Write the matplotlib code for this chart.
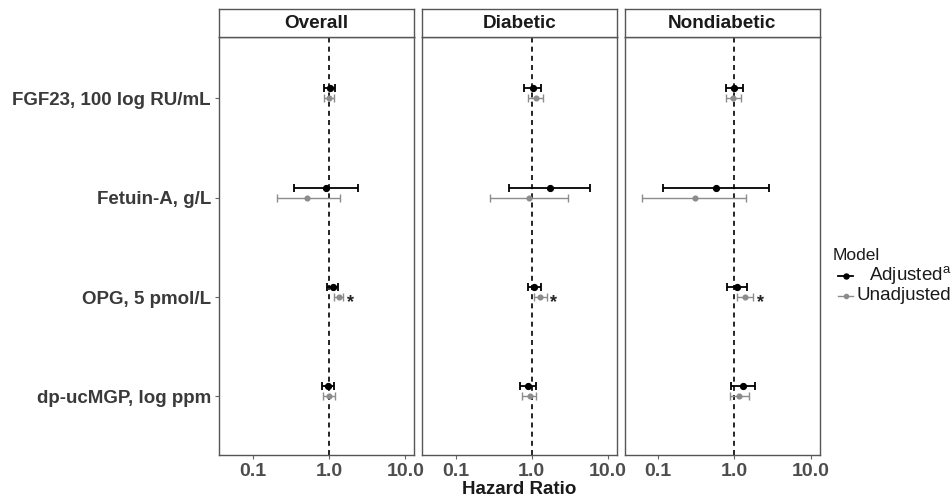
import numpy as np
import matplotlib
matplotlib.use('Agg')
import matplotlib.pyplot as plt
from matplotlib.lines import Line2D

plt.rcParams['font.family'] = ['Liberation Sans', 'DejaVu Sans']

markers = ['FGF23, 100 log RU/mL', 'Fetuin-A, g/L', 'OPG, 5 pmol/L', 'dp-ucMGP, log ppm']
groups = ['Overall', 'Diabetic', 'Nondiabetic']

# hazard ratios and 95% CI, one list per group, in the order of markers
adj_hr = {'Overall': [1.03, 0.91, 1.11, 0.97],
          'Diabetic': [1.03, 1.73, 1.08, 0.90],
          'Nondiabetic': [1.00, 0.57, 1.07, 1.31]}
adj_lo = {'Overall': [0.87, 0.35, 0.93, 0.80],
          'Diabetic': [0.80, 0.51, 0.88, 0.70],
          'Nondiabetic': [0.78, 0.116, 0.80, 0.89]}
adj_hi = {'Overall': [1.20, 2.38, 1.30, 1.16],
          'Diabetic': [1.33, 5.80, 1.33, 1.15],
          'Nondiabetic': [1.31, 2.80, 1.45, 1.87]}

unadj_hr = {'Overall': [1.01, 0.52, 1.34, 1.00],
            'Diabetic': [1.13, 0.92, 1.30, 0.94],
            'Nondiabetic': [0.97, 0.30, 1.38, 1.14]}
unadj_lo = {'Overall': [0.87, 0.21, 1.16, 0.84],
            'Diabetic': [0.90, 0.28, 1.08, 0.75],
            'Nondiabetic': [0.78, 0.062, 1.08, 0.87]}
unadj_hi = {'Overall': [1.15, 1.37, 1.54, 1.20],
            'Diabetic': [1.41, 3.00, 1.56, 1.15],
            'Nondiabetic': [1.21, 1.42, 1.76, 1.55]}

# significant unadjusted estimates get a star
starred = ['OPG, 5 pmol/L']

W, H = 953, 499
fig = plt.figure(figsize=(W / 100, H / 100), dpi=100)

left0 = 219.3
pw = 194.8
gap = 7.9
ptop = 36.7
pbot = 455
stop = 9.3

pos = np.arange(len(markers))
txt_gray = '#4d4d4d'
frame = '#555555'
adj_col = 'black'
unadj_col = '#8c8c8c'

for i, g in enumerate(groups):
    x0 = left0 + i * (pw + gap)
    ax = fig.add_axes([x0 / W, 1 - pbot / H, pw / W, (pbot - ptop) / H])
    ax.set_xscale('log')
    ax.set_xlim(10 ** -1.44, 10 ** 1.115)
    ax.set_ylim(3.59, -0.62)
    ax.axvline(1.0, color='black', lw=1.2, ls=(0, (3, 2.5)), zorder=1)

    ya = pos - 0.1
    a = np.array(adj_hr[g])
    ax.errorbar(a, ya, xerr=[a - np.array(adj_lo[g]), np.array(adj_hi[g]) - a],
                fmt='o', color=adj_col, ms=4.2, elinewidth=1.3, capsize=3.0,
                capthick=1.3, zorder=3)
    u = np.array(unadj_hr[g])
    ax.errorbar(u, pos, xerr=[u - np.array(unadj_lo[g]), np.array(unadj_hi[g]) - u],
                fmt='o', color=unadj_col, ms=3.4, elinewidth=1.0, capsize=2.8,
                capthick=1.0, zorder=2)
    for j, m in enumerate(markers):
        if m in starred:
            ax.annotate('*', (unadj_hi[g][j], pos[j]), xytext=(2.5, -4),
                        textcoords='offset points', ha='left', va='center',
                        fontsize=13, fontweight='bold', color='#222222')

    ax.set_xticks([0.1, 1, 10])
    ax.set_xticklabels(['0.1', '1.0', '10.0'])
    ax.minorticks_off()
    ax.tick_params(axis='x', length=3, width=0.8, color='#666666', labelsize=14,
                   labelcolor=txt_gray, pad=3)
    for lab in ax.get_xticklabels():
        lab.set_fontweight('bold')
    if i == 0:
        ax.set_yticks(pos)
        ax.set_yticklabels(markers)
        ax.tick_params(axis='y', length=3, width=0.8, color='#666666', labelsize=13.5,
                       labelcolor='#3a3a3a', pad=3)
        for lab in ax.get_yticklabels():
            lab.set_fontweight('bold')
    else:
        ax.set_yticks([])
    for sp in ax.spines.values():
        sp.set_color(frame)
        sp.set_linewidth(1.0)

    # strip
    sax = fig.add_axes([x0 / W, 1 - ptop / H, pw / W, (ptop - stop) / H])
    sax.set_xticks([])
    sax.set_yticks([])
    for sp in sax.spines.values():
        sp.set_color(frame)
        sp.set_linewidth(1.0)
    sax.text(0.5, 0.47, g, ha='center', va='center', fontsize=13.6, fontweight='bold',
             color='#1a1a1a', transform=sax.transAxes)

fig.text((left0 + 1.5 * pw + gap) / W, 1 - 490 / H, 'Hazard Ratio', ha='center',
         va='center', fontsize=13.5, fontweight='bold', color='#1a1a1a')

# legend drawn by hand: labels sit right-aligned as in the original
fig.text(833 / W, 1 - 256 / H, 'Model', ha='left', va='center', fontsize=12.5,
         color='#1a1a1a')
leg_labels = ['Adjusted$^{\\mathregular{a}}$', 'Unadjusted']
leg_cols = [adj_col, unadj_col]
leg_y = [276, 296]
leg_ms = [3.6, 3.0]
leg_lw = [1.3, 1.0]
for lab, col, yy, ms, lw in zip(leg_labels, leg_cols, leg_y, leg_ms, leg_lw):
    fig.add_artist(Line2D([838 / W, 853 / W], [1 - yy / H, 1 - yy / H], color=col,
                          lw=lw, transform=fig.transFigure))
    fig.add_artist(Line2D([845.5 / W], [1 - yy / H], color=col, marker='o', ms=ms,
                          transform=fig.transFigure))
    fig.text(951 / W, 1 - yy / H, lab, ha='right', va='center', fontsize=13.5,
             color='#1a1a1a')

fig.savefig('out.png', dpi=100)
plt.close('all')
